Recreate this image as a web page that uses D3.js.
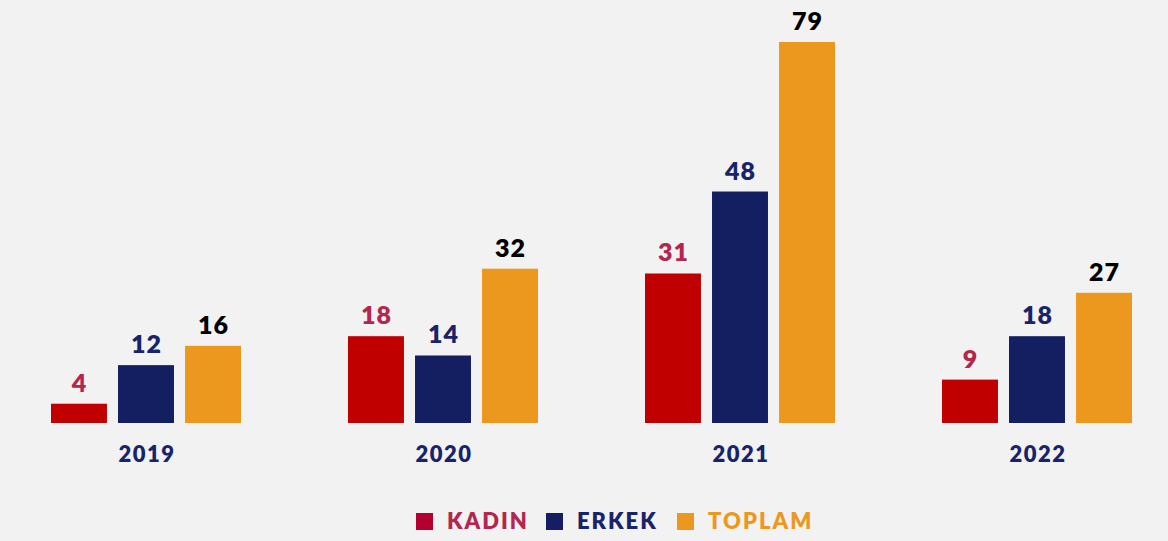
<!DOCTYPE html>
<html><head><meta charset="utf-8">
<script src="https://cdn.jsdelivr.net/npm/d3@7"></script>
<style>html,body{margin:0;padding:0;background:#f2f2f2;}svg{display:block;}</style>
</head><body>
<script>
const years = ["2019","2020","2021","2022"];
const seriesNames = ["KADIN","ERKEK","TOPLAM"];
const kadin = [4,18,31,9];
const erkek = [12,14,48,18];
const toplam = [16,32,79,27];
const barColors = ["#c00000","#131f61","#ec981e"];
const labelColors = ["#b3264d","#18236a","#000000"];
const legendColors = ["#b3002f","#131f61","#ec981e"];
const legendText = ["#b3264d","#18236a","#ec981e"];

const W=1168,H=541;
const svg=d3.select("body").append("svg").attr("width",W).attr("height",H);
svg.append("rect").attr("width",W).attr("height",H).attr("fill","#f2f2f2");
const font="Lato, 'Open Sans', sans-serif";
const base=423;
const y=d3.scaleLinear().domain([0,79]).range([base,42]);
const x=d3.scalePoint().domain(years).range([51,942]);
const x1=d3.scaleBand().domain(seriesNames).range([0,190]).paddingInner(0.165);
const data=[kadin,erkek,toplam];
years.forEach((yr,i)=>{
  const g=svg.append("g").attr("transform",`translate(${x(yr)},0)`);
  seriesNames.forEach((s,j)=>{
    const v=data[j][i];
    g.append("rect").attr("x",x1(s)).attr("y",y(v)).attr("width",x1.bandwidth()).attr("height",base-y(v)).attr("fill",barColors[j]);
    g.append("text").attr("x",x1(s)+x1.bandwidth()/2+0.5).attr("y",y(v)-12).attr("text-anchor","middle")
      .attr("font-family",font).attr("font-weight",800).attr("font-size",25).attr("letter-spacing",1)
      .attr("fill",labelColors[j]).text(v);
  });
  g.append("text").attr("x",96).attr("y",462).attr("text-anchor","middle").attr("font-family",font)
    .attr("font-weight",800).attr("font-size",22).attr("letter-spacing",1.5).attr("fill","#18236a").text(yr);
});
// legend
const legX=[416,546,677];
seriesNames.forEach((s,j)=>{
  svg.append("rect").attr("x",legX[j]).attr("y",513).attr("width",17).attr("height",17).attr("fill",legendColors[j]);
  svg.append("text").attr("x",legX[j]+31).attr("y",529).attr("font-family",font).attr("font-weight",800)
    .attr("font-size",22).attr("letter-spacing",2).attr("fill",legendText[j]).text(s);
});
</script>
</body></html>
